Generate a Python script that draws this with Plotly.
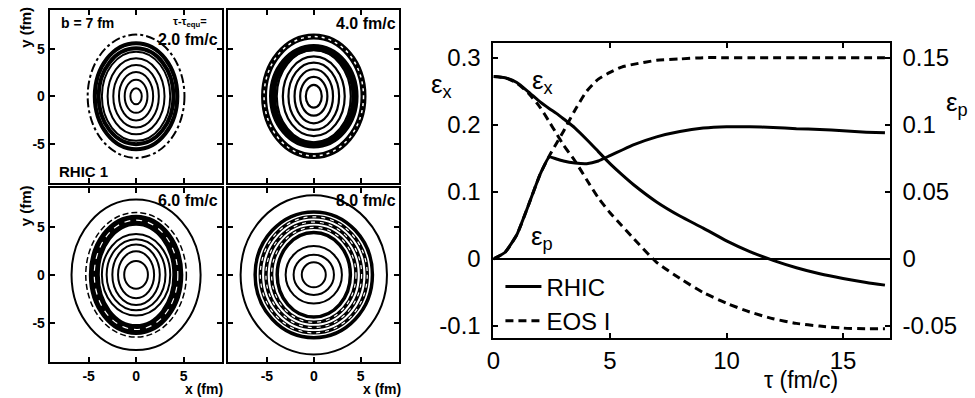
import plotly.graph_objects as go

W, H = 975, 398

# ---------------- right panel data ----------------
tau = [0, 0.5, 1.0, 1.5, 2.0, 2.4, 2.7, 3.0, 3.5, 4.0, 4.5, 5.0, 5.5, 6.0, 7.0, 8.0,
       9.0, 10.0, 11.0, 12.0, 13.0, 14.0, 15.0, 16.0, 16.8]
rhic_ex = [0.272, 0.270, 0.263, 0.249, 0.234, 0.224, 0.217, 0.209, 0.195, 0.178, 0.160,
           0.142, 0.126, 0.111, 0.085, 0.064, 0.046, 0.027, 0.011, -0.002, -0.013,
           -0.022, -0.029, -0.035, -0.039]
eos_ex = [0.272, 0.270, 0.262, 0.247, 0.226, 0.204, 0.187, 0.170, 0.146, 0.118, 0.091,
          0.069, 0.050, 0.031, -0.005, -0.029, -0.050, -0.066, -0.079, -0.089, -0.096,
          -0.100, -0.103, -0.104, -0.104]
rhic_ep = [0, 0.005, 0.018, 0.040, 0.063, 0.076, 0.0745, 0.073, 0.0715, 0.071, 0.073,
           0.077, 0.081, 0.085, 0.091, 0.095, 0.0975, 0.0985, 0.0985, 0.098, 0.097,
           0.0965, 0.0955, 0.0945, 0.094]
eos_ep = [0, 0.005, 0.018, 0.040, 0.063, 0.077, 0.086, 0.095, 0.111, 0.125, 0.134,
          0.139, 0.143, 0.145, 0.148, 0.149, 0.150, 0.150, 0.150, 0.150, 0.150, 0.150,
          0.150, 0.150, 0.150]

left_ticks = [-0.1, 0, 0.1, 0.2, 0.3]
left_ticktext = ["-0.1", "0", "0.1", "0.2", "0.3"]
right_ticks = [-0.05, 0, 0.05, 0.1, 0.15]
right_ticktext = ["-0.05", "0", "0.05", "0.1", "0.15"]
tau_ticks = [0, 5, 10, 15]

# ---------------- contour panels: ellipse semi-axes (fm) ----------------
xy_ticks = [-5, 0, 5]
xy_ticktext = ["-5", "0", "5"]

p1_thin_a = [0.6, 1.2, 1.8, 2.4, 3.0, 3.6]
p1_thin_b = [0.85, 1.75, 2.55, 3.3, 4.0, 4.7]
p1_thick_a = [3.95, 4.35]
p1_thick_b = [5.05, 5.6]
p1_dashdot_a = [5.1]
p1_dashdot_b = [6.5]

p2_thin_a = [0.85, 1.45, 2.05, 2.7, 3.3, 3.95]
p2_thin_b = [1.2, 2.05, 2.85, 3.55, 4.2, 4.85]
p2_thick_a = [4.4]
p2_thick_b = [5.15]
p2_band_a = [5.3]
p2_band_b = [6.3]

p3_thin_a = [1.25, 1.9, 2.5, 3.1, 3.6]
p3_thin_b = [1.45, 2.45, 3.15, 3.7, 4.25]
p3_band_a = [4.4]
p3_band_b = [5.7]
p3_dash_a = [5.3]
p3_dash_b = [6.5]
p3_outer_a = [6.8]
p3_outer_b = [7.85]

p4_thin_a = [1.28, 2.15, 3.0]
p4_thin_b = [1.3, 2.1, 3.0]
p4_band_a = [3.9, 4.5, 5.1, 5.7, 6.25]
p4_band_b = [4.4, 4.95, 5.5, 6.05, 6.56]
p4_outer_a = [7.8]
p4_outer_b = [8.3]

FONT = "Liberation Sans, Arial, Helvetica, sans-serif"


def px_x(x):
    return x / W


def px_y(y):
    return 1 - y / H


def rings(xref, yref, a_list, b_list, width, dash="solid", color="black"):
    out = []
    for a, b in zip(a_list, b_list):
        out.append(dict(type="circle", xref=xref, yref=yref, x0=-a, x1=a, y0=-b, y1=b,
                        line=dict(color=color, width=width, dash=dash), layer="above"))
    return out


fig = go.Figure()

# invisible traces so each contour subplot exists
for i in range(1, 5):
    fig.add_trace(go.Scatter(x=[], y=[], xaxis=f"x{i}" if i > 1 else "x",
                             yaxis=f"y{i}" if i > 1 else "y", showlegend=False,
                             hoverinfo="skip"))

# right panel curves
fig.add_trace(go.Scatter(x=tau, y=rhic_ex, xaxis="x5", yaxis="y5", mode="lines",
                         name="RHIC", line=dict(color="black", width=3, shape="spline",
                                                smoothing=0.6)))
fig.add_trace(go.Scatter(x=tau, y=eos_ex, xaxis="x5", yaxis="y5", mode="lines",
                         name="EOS I", line=dict(color="black", width=3, dash="8px,5px",
                                                 shape="spline", smoothing=0.6)))
fig.add_trace(go.Scatter(x=tau, y=rhic_ep, xaxis="x5", yaxis="y6", mode="lines",
                         showlegend=False, line=dict(color="black", width=3, shape="spline",
                                                     smoothing=0.4)))
fig.add_trace(go.Scatter(x=tau, y=eos_ep, xaxis="x5", yaxis="y6", mode="lines",
                         showlegend=False, line=dict(color="black", width=3, dash="8px,5px",
                                                     shape="spline", smoothing=0.6)))

shapes = []
# panel 1
shapes += rings("x", "y", p1_thin_a, p1_thin_b, 2)
shapes += rings("x", "y", p1_thick_a, p1_thick_b, 4)
shapes += rings("x", "y", p1_dashdot_a, p1_dashdot_b, 2, dash="dashdot")
# panel 2
shapes += rings("x2", "y2", p2_thin_a, p2_thin_b, 2.2)
shapes += rings("x2", "y2", p2_thick_a, p2_thick_b, 7)
shapes += rings("x2", "y2", p2_band_a, p2_band_b, 6)
shapes += rings("x2", "y2", p2_band_a, p2_band_b, 1.5, dash="3px,4px", color="white")
# panel 3
shapes += rings("x3", "y3", p3_thin_a, p3_thin_b, 2)
shapes += rings("x3", "y3", p3_band_a, p3_band_b, 11)
shapes += rings("x3", "y3", p3_band_a, p3_band_b, 1.2, dash="6px,6px", color="white")
shapes += rings("x3", "y3", p3_dash_a, p3_dash_b, 1.5, dash="6px,3px")
shapes += rings("x3", "y3", p3_outer_a, p3_outer_b, 2)
# panel 4
shapes += rings("x4", "y4", p4_thin_a, p4_thin_b, 2)
shapes += rings("x4", "y4", p4_band_a, p4_band_b, 3.5)
shapes += rings("x4", "y4", p4_band_a[1:-1], p4_band_b[1:-1], 1.2, dash="4px,5px",
                color="white")
shapes += rings("x4", "y4", p4_outer_a, p4_outer_b, 2)


def cax(xdom, anchor, labels):
    return dict(domain=xdom, anchor=anchor, range=[-9.1, 9.1], tickvals=xy_ticks,
                ticktext=xy_ticktext, ticks="inside", ticklen=5, tickwidth=1.5,
                tickcolor="black", mirror="ticks", showline=True, linewidth=2,
                linecolor="black", showgrid=False, zeroline=False, showticklabels=labels,
                tickfont=dict(family=FONT, size=14, color="black", weight="bold"))


dx_l = [px_x(43), px_x(217)]
dx_r = [px_x(223), px_x(395)]
dy_t = [px_y(183), px_y(10)]
dy_b = [px_y(363), px_y(188)]

layout = dict(
    width=W, height=H, margin=dict(l=0, r=0, t=0, b=0),
    paper_bgcolor="white", plot_bgcolor="white",
    font=dict(family=FONT, color="black"),
    xaxis=cax(dx_l, "y", False), yaxis=cax(dy_t, "x", True),
    xaxis2=cax(dx_r, "y2", False), yaxis2=cax(dy_t, "x2", False),
    xaxis3=cax(dx_l, "y3", True), yaxis3=cax(dy_b, "x3", True),
    xaxis4=cax(dx_r, "y4", True), yaxis4=cax(dy_b, "x4", False),
    xaxis5=dict(domain=[px_x(490), px_x(889)], anchor="y5", range=[0, 17],
                tickvals=tau_ticks, ticks="inside", ticklen=5, tickwidth=1.5,
                tickcolor="black", mirror="ticks", showline=True, linewidth=2,
                linecolor="black", showgrid=False, zeroline=False,
                tickfont=dict(family=FONT, size=24, color="black")),
    yaxis5=dict(domain=[px_y(339), px_y(43)], anchor="x5", range=[-0.118, 0.322],
                tickvals=left_ticks, ticktext=left_ticktext, ticks="inside", ticklen=5,
                tickwidth=1.5, tickcolor="black", showline=True, linewidth=2,
                linecolor="black", mirror=True, showgrid=False, zeroline=True,
                zerolinecolor="black", zerolinewidth=1.5, ticklabelstandoff=6,
                tickfont=dict(family=FONT, size=24, color="black")),
    yaxis6=dict(overlaying="y5", anchor="x5", side="right", range=[-0.059, 0.161],
                tickvals=right_ticks, ticktext=right_ticktext, ticks="inside", ticklen=5,
                tickwidth=1.5, tickcolor="black", showline=True, linewidth=2,
                linecolor="black", showgrid=False, zeroline=False, ticklabelstandoff=6,
                tickfont=dict(family=FONT, size=24, color="black")),
    showlegend=True,
    legend=dict(x=px_x(497), y=px_y(265), xanchor="left", yanchor="top",
                bgcolor="rgba(0,0,0,0)", font=dict(family=FONT, size=24, color="black"),
                itemwidth=36, tracegroupgap=0),
    shapes=shapes,
)
fig.update_layout(**layout)


def ann(text, x, y, size, xanchor="center", bold=False, angle=0):
    return dict(text=text, x=px_x(x), y=px_y(y), xref="paper", yref="paper",
                xanchor=xanchor, yanchor="middle", showarrow=False, textangle=angle,
                font=dict(family=FONT, size=size, color="black",
                          weight="bold" if bold else "normal"))


annotations = [
    ann("b = 7 fm", 52, 23, 14, xanchor="left", bold=True),
    ann("τ-τ<sub>equ</sub>=", 184, 22, 11, bold=True),
    ann("2.0 fm/c", 215, 40, 16, xanchor="right", bold=True),
    ann("RHIC 1", 50, 172, 15, xanchor="left", bold=True),
    ann("4.0 fm/c", 394, 24, 16, xanchor="right", bold=True),
    ann("6.0 fm/c", 215, 201, 16, xanchor="right", bold=True),
    ann("8.0 fm/c", 394, 201, 16, xanchor="right", bold=True),
    ann("x (fm)", 198, 390, 14, bold=True),
    ann("x (fm)", 378, 390, 14, bold=True),
    ann("y (fm)", 19, 27, 15, bold=True, angle=-90),
    ann("y (fm)", 19, 206, 15, bold=True, angle=-90),
    ann("ε<sub>x</sub>", 438, 86, 26),
    ann("ε<sub>x</sub>", 539, 82, 26),
    ann("ε<sub>p</sub>", 539, 238, 26),
    ann("ε<sub>p</sub>", 957, 104, 26),
    ann("τ (fm/c)", 800, 381, 23),
]
fig.update_layout(annotations=annotations)

fig.write_html("out.html", config={"displayModeBar": False},
               post_script="document.body.style.margin='0px';")
